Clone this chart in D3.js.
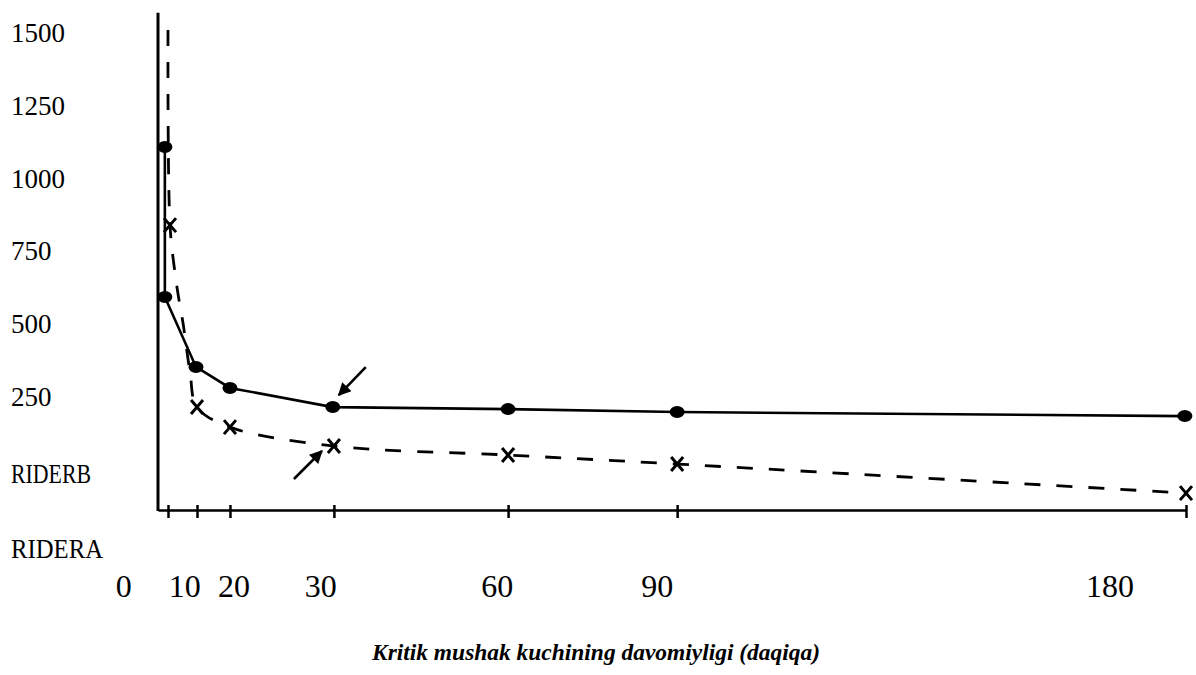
<!doctype html>
<html>
<head>
<meta charset="utf-8">
<style>
  body { margin: 0; background: #fff; }
  text { font-family: "Liberation Serif", "Times New Roman", serif; fill: #000; }
</style>
<script src="https://d3js.org/d3.v7.min.js"></script>
</head>
<body>
<svg width="1196" height="675" id="chart"></svg>
<script>
// x values in minutes, y values
var tickMinutes = [1.75, 6.83, 12.6, 30.8, 61.3, 90.9, 180];
var xLabels = ["0", "10", "20", "30", "60", "90", "180"];
var xLabelMinutes = [-6, 4.7, 13.3, 28.5, 59.4, 87.4, 166.7];
var yLabels = ["1500", "1250", "1000", "750", "500", "250", "RIDERB", "RIDERA"];
var yLabelValues = [1500, 1250, 1000, 750, 500, 250, -15, -275];

// solid line with dots
var solidMinutes = [1.2, 1.2, 6.65, 12.6, 30.6, 61.3, 90.9, 179.8];
var solidValues = [1108, 592, 351, 279, 213, 206, 196, 182];

// dashed line (curve part + x markers)
var dashMinutes = [1.75, 2.1, 2.98, 3.68, 4.38, 5.6, 6.83, 12.6, 30.8, 61.3, 90.9, 180];
var dashValues = [1510, 839, 674, 581, 502, 334, 213, 144, 79, 48, 17, -83];
var crossIndex = [1, 6, 7, 8, 9, 10, 11];

var svg = d3.select("#chart"),
    axisY = 510;

var x = d3.scaleLinear().domain([0, 180]).range([158, 1186]),
    y = d3.scaleLinear().domain([0, 1500]).range([469, 33]);

// arrow head
svg.append("defs").append("marker")
   .attr("id", "head")
   .attr("viewBox", "0 0 10 10")
   .attr("refX", 9).attr("refY", 5)
   .attr("markerWidth", 6).attr("markerHeight", 5)
   .attr("markerUnits", "strokeWidth")
   .attr("orient", "auto")
   .append("path")
   .attr("d", "M0,0 L10,5 L0,10 z")
   .attr("fill", "#000");

// y axis line
svg.append("line")
   .attr("x1", x(0)).attr("x2", x(0))
   .attr("y1", y(1570)).attr("y2", axisY + 1)
   .attr("stroke", "#000").attr("stroke-width", 3);

// x axis
var xAxis = svg.append("g")
   .attr("transform", "translate(0," + axisY + ")")
   .call(d3.axisBottom(x).tickValues(tickMinutes).tickSizeOuter(0).tickFormat(""));
xAxis.select(".domain").attr("stroke", "#000").attr("stroke-width", 2.5);
xAxis.selectAll(".tick line")
   .attr("y1", -5).attr("y2", 8)
   .attr("stroke", "#000").attr("stroke-width", 2.5);

// y labels (not lined up with ticks in the original)
svg.selectAll(".ylab")
   .data(yLabels)
   .enter().append("text")
   .attr("class", "ylab")
   .attr("x", 11)
   .attr("y", function(d, i) { return y(yLabelValues[i]); })
   .attr("dy", "0.35em")
   .attr("font-size", "27px")
   .attr("textLength", function(d) { return d.indexOf("RIDER") == 0 ? (d == "RIDERA" ? 92 : 80) : null; })
   .attr("lengthAdjust", "spacingAndGlyphs")
   .text(function(d) { return d; });

// x labels
svg.selectAll(".xlab")
   .data(xLabels)
   .enter().append("text")
   .attr("class", "xlab")
   .attr("x", function(d, i) { return x(xLabelMinutes[i]); })
   .attr("y", 597)
   .attr("text-anchor", "middle")
   .attr("font-size", "32px")
   .text(function(d) { return d; });

svg.append("text")
   .attr("x", 596)
   .attr("y", 660)
   .attr("text-anchor", "middle")
   .attr("font-size", "24px")
   .attr("font-weight", "bold")
   .attr("font-style", "italic")
   .attr("textLength", 448)
   .attr("lengthAdjust", "spacingAndGlyphs")
   .text("Kritik mushak kuchining davomiyligi (daqiqa)");

// dashed series
var dashLine = d3.line()
   .x(function(d, i) { return x(dashMinutes[i]); })
   .y(function(d) { return y(d); })
   .curve(d3.curveCatmullRom);
svg.append("path")
   .attr("d", dashLine(dashValues))
   .attr("fill", "none")
   .attr("stroke", "#000")
   .attr("stroke-width", 2.8)
   .attr("stroke-dasharray", "16,16");

svg.selectAll(".cross")
   .data(crossIndex)
   .enter().append("path")
   .attr("class", "cross")
   .attr("transform", function(i) { return "translate(" + x(dashMinutes[i]) + "," + y(dashValues[i]) + ")"; })
   .attr("d", "M-6,-7 L6,7 M6,-7 L-6,7")
   .attr("stroke", "#000")
   .attr("stroke-width", 3)
   .attr("fill", "none");

// solid series
var solidLine = d3.line()
   .x(function(d, i) { return x(solidMinutes[i]); })
   .y(function(d) { return y(d); });
svg.append("path")
   .attr("d", solidLine(solidValues))
   .attr("fill", "none")
   .attr("stroke", "#000")
   .attr("stroke-width", 2.6);

svg.selectAll(".dot")
   .data(solidValues)
   .enter().append("ellipse")
   .attr("class", "dot")
   .attr("cx", function(d, i) { return x(solidMinutes[i]); })
   .attr("cy", function(d) { return y(d); })
   .attr("rx", 7.5).attr("ry", 6)
   .attr("fill", "#000");

// arrows pointing at the 30 minute points
var arrows = [
  { px: x(solidMinutes[4]), py: y(solidValues[4]), tx: 6, ty: -12, fx: 33, fy: -40 },
  { px: x(dashMinutes[8]), py: y(dashValues[8]), tx: -12, ty: 5, fx: -40, fy: 33 }
];
svg.selectAll(".arrow")
   .data(arrows)
   .enter().append("line")
   .attr("class", "arrow")
   .attr("x1", function(d) { return d.px + d.fx; })
   .attr("y1", function(d) { return d.py + d.fy; })
   .attr("x2", function(d) { return d.px + d.tx; })
   .attr("y2", function(d) { return d.py + d.ty; })
   .attr("stroke", "#000")
   .attr("stroke-width", 2.6)
   .attr("marker-end", "url(#head)");
</script>
</body>
</html>
